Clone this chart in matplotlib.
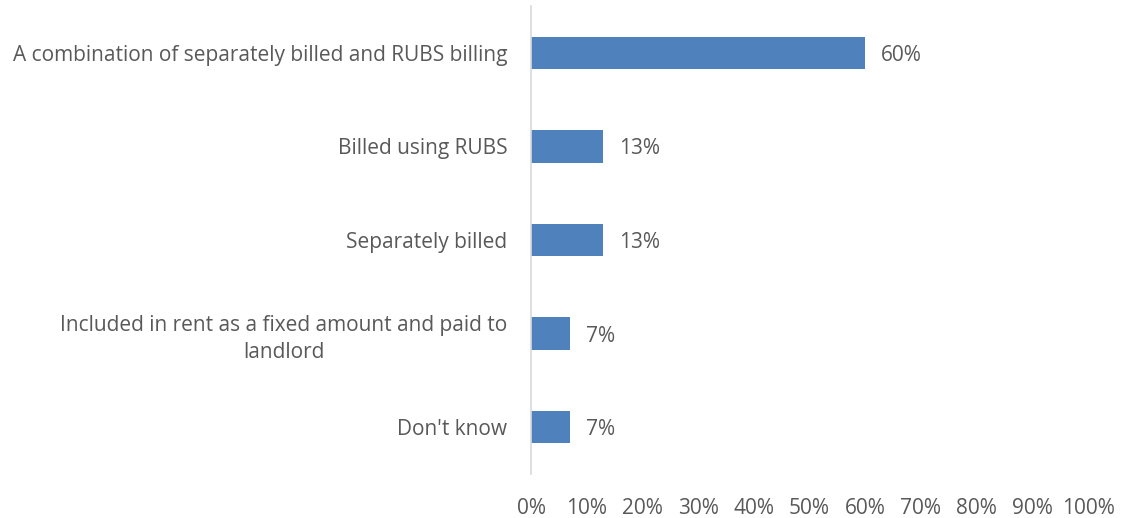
import matplotlib
matplotlib.use("Agg")
import matplotlib.pyplot as plt
from matplotlib.ticker import FuncFormatter

categories = [
    "A combination of separately billed and RUBS billing",
    "Billed using RUBS",
    "Separately billed",
    "Included in rent as a fixed amount and paid to\nlandlord",
    "Don't know",
]
values = [60, 13, 13, 7, 7]
x_ticks = [0, 10, 20, 30, 40, 50, 60, 70, 80, 90, 100]

text_color = "#595959"
bar_color = "#4F81BD"
fs = 15

plt.rcParams["font.family"] = ["Open Sans", "DejaVu Sans"]

fig = plt.figure(figsize=(11.22, 5.18), dpi=100)
ax = fig.add_axes([531 / 1122, 44 / 518, (1088 - 531) / 1122, (474 - 6) / 518])

pos = list(range(len(categories)))
ax.barh(pos, values, height=0.345, color=bar_color)
ax.set_ylim(len(categories) - 0.5, -0.5)
ax.set_xlim(0, 100)

for p, v in zip(pos, values):
    ax.text(v + 2.8, p, f"{v}%", va="center_baseline", ha="left",
            fontsize=fs, color=text_color)

ax.set_yticks(pos)
ax.set_yticklabels(categories, fontsize=fs, color=text_color, ha="right",
                   multialignment="center", linespacing=1.4)
ax.tick_params(axis="y", length=0, pad=17)

ax.set_xticks(x_ticks)
ax.xaxis.set_major_formatter(FuncFormatter(lambda v, _: f"{int(v)}%"))
ax.tick_params(axis="x", length=0, pad=17, labelsize=fs, labelcolor=text_color)

for side in ["top", "right", "bottom"]:
    ax.spines[side].set_visible(False)
ax.spines["left"].set_color("#d9d9d9")
ax.spines["left"].set_linewidth(1.2)

fig.savefig("out.png", dpi=100)
